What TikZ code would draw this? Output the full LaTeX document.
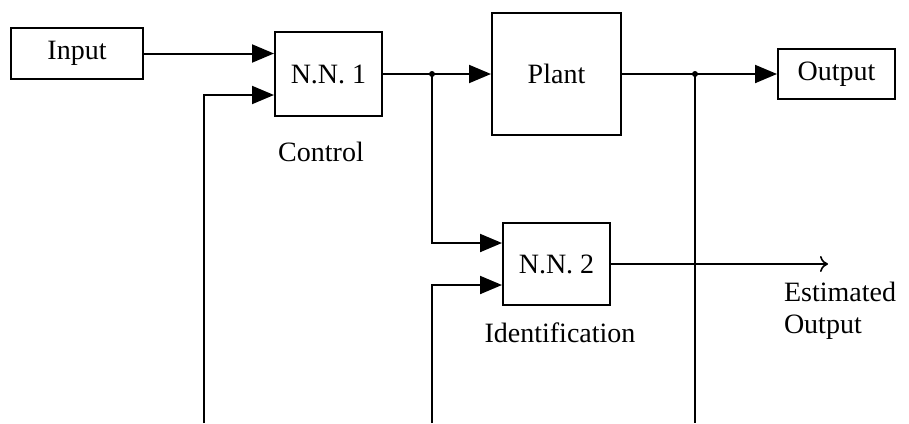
\documentclass[tikz,border=0pt]{standalone}
\usepackage{fontspec}
\setmainfont{Liberation Serif}
\usetikzlibrary{calc,arrows.meta,positioning}
\tikzset{
    block/.style={
        draw,line width=1pt,
        fill=white,inner sep=0pt,
        font=\fontsize{14pt}{16pt}\selectfont
    },
    caption/.style={font=\fontsize{14pt}{16pt}\selectfont,align=left},
    wire/.style={line width=1pt},
    thin wire/.style={line width=0.8pt,-{To[length=4pt,width=8pt]}},
    >={Triangle[length=11pt,width=9pt]}
}
\begin{document}
\begin{tikzpicture}[x=0.5pt,y=-0.5pt]
\useasboundingbox (0,0) rectangle (909,423);
\node[block,minimum width=66pt,minimum height=25.5pt] (input) at (77,53.5) {Input};
\node[block,minimum width=53.5pt,minimum height=42pt] (nn1) at (328.5,74) {N.N. 1};
\node[block,minimum width=64.5pt,minimum height=61pt] (plant) at (556.5,74) {Plant};
\node[block,minimum width=58.5pt,minimum height=25pt] (output) at (836.5,74) {Output};
\node[block,minimum width=53.5pt,minimum height=41pt] (nn2) at (556.5,264) {N.N. 2};
\node[caption] (ctrl) at (321,152) {Control};
\node[caption] (ident) at (560,333) {Identification};
\node[caption] (est) at (840,311) {Estimated\\Output};
\coordinate (j1) at (432,74);
\coordinate (j2) at (695,74);
\coordinate (fb1) at (204,423);
\coordinate (fb2) at (432,423);
\coordinate (estout) at (828,264);
\draw[wire,->] (input.east) -- (input.east -| nn1.west);
\draw[wire,->] (fb1) |- ([yshift=-10.5pt]nn1.west);
\draw[wire,->] (nn1.east) -- (plant.west);
\draw[wire,->] (plant.east) -- (output.west);
\draw[wire,->] (j1) |- ([yshift=10.5pt]nn2.west);
\draw[wire,->] (fb2) |- ([yshift=-10.5pt]nn2.west);
\draw[wire] (j2) -- (j2 |- fb2);
\draw[thin wire] (nn2.east) -- (estout);
\fill (j1) circle (1.5pt) (j2) circle (1.5pt);
\end{tikzpicture}
\end{document}
